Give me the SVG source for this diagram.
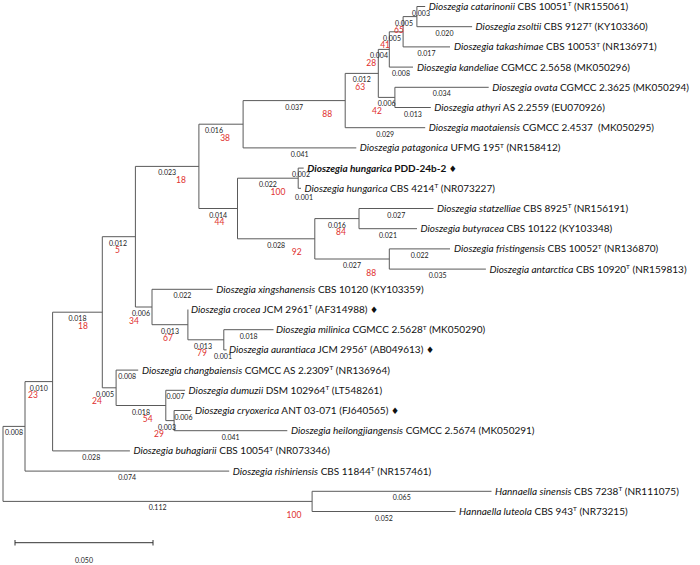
<svg xmlns="http://www.w3.org/2000/svg" width="700" height="565" viewBox="0 0 700 565">
<style>
.ln{fill:none;stroke:#5a5a5a;stroke-width:1}
.sc{fill:none;stroke:#333;stroke-width:1}
.lf{font-family:Lato,'Liberation Sans',sans-serif;font-size:10px;fill:#111}
.sp{font-style:italic}
.sup{font-size:6.5px}
.dm{font-family:'DejaVu Sans',sans-serif;font-size:9px}
.bl{font-family:Lato,'Liberation Sans',sans-serif;font-size:7px;fill:#222;text-anchor:middle}
.bs{font-family:Lato,'Liberation Sans',sans-serif;font-size:8.5px;fill:#e0302e;text-anchor:middle}
</style>
<rect width="700" height="565" fill="#fff"/>
<g id="branches">
<path class="ln" d="M3 426.4V501.4M25 381.6V471.1M52.6 312.2V450.9M102.3 236.7V387.8M135.4 166.4V307M198.9 124.2V208.5M243.1 100.6V147.9M345.2 73.4V127.7M378.3 49.4V97.4M389.3 31.8V67.1M403.1 16.6V46.9M416.9 6.5V26.7M394.9 87.3V107.5M237.5 178.2V238.8M298.2 168.1V188.3M314.8 218.6V259M359 208.5V228.7M389.3 248.9V269.1M152 289.3V324.7M187.9 309.5V339.8M223.8 329.7V349.9M116.1 370.1V405.5M165.8 390.3V420.6M174.1 410.5V430.7M312.1 491.3V511.5"/>
<path class="ln" d="M3 426.4H25M3 501.4H312.1M25 381.6H52.6M25 471.1H229.2M52.6 312.2H102.3M52.6 450.9H129.9M102.3 236.7H135.4M102.3 387.8H116.1M135.4 166.4H198.9M135.4 307H152M198.9 124.2H243.1M198.9 208.5H237.5M243.1 100.6H345.2M243.1 147.9H356.3M345.2 73.4H378.3M345.2 127.7H425.2M378.3 49.4H389.3M378.3 97.4H394.9M389.3 31.8H403.1M389.3 67.1H413M403.1 16.6H416.9M403.1 46.9H450M416.9 6.5H425.2M416.9 26.7H472.1M394.9 87.3H488.7M394.9 107.5H430.8M237.5 178.2H298.2M237.5 238.8H314.8M298.2 168.1H303.7M298.2 188.3H301M314.8 218.6H359M314.8 259H389.3M359 208.5H433.5M359 228.7H417M389.3 248.9H450M389.3 269.1H485.9M152 289.3H212.7M152 324.7H187.9M187.9 339.8H223.8M223.8 329.7H273.5M223.8 349.9H226.6M116.1 370.1H138.2M116.1 405.5H165.8M165.8 390.3H185.1M165.8 420.6H174.1M174.1 410.5H190.7M174.1 430.7H287.3M312.1 491.3H491.5M312.1 511.5H455.6"/>
</g>
<g id="leaf-catarinonii"><text class="lf" x="428.7" y="9.9"><tspan class="sp">Dioszegia catarinonii</tspan> CBS 10051<tspan class="sup" dy="-3.5">T</tspan><tspan dy="3.5"> (NR155061)</tspan></text><text class="bl" x="421" y="15.5">0.003</text></g>
<g id="leaf-zsoltii"><text class="lf" x="475.6" y="30.1"><tspan class="sp">Dioszegia zsoltii</tspan> CBS 9127<tspan class="sup" dy="-3.5">T</tspan><tspan dy="3.5"> (KY103360)</tspan></text><text class="bl" x="444.5" y="35.7">0.020</text></g>
<g id="leaf-takashimae"><text class="lf" x="454" y="50.3"><tspan class="sp">Dioszegia takashimae</tspan> CBS 10053<tspan class="sup" dy="-3.5">T</tspan><tspan dy="3.5"> (NR136971)</tspan></text><text class="bl" x="426.5" y="55.9">0.017</text></g>
<g id="leaf-kandeliae"><text class="lf" x="417" y="70.5"><tspan class="sp">Dioszegia kandeliae</tspan> CGMCC 2.5658 (MK050296)</text><text class="bl" x="401" y="76.1">0.008</text></g>
<g id="leaf-ovata"><text class="lf" x="492.2" y="90.7"><tspan class="sp">Dioszegia ovata</tspan> CGMCC 2.3625 (MK050294)</text><text class="bl" x="441.8" y="96.3">0.034</text></g>
<g id="leaf-athyri"><text class="lf" x="434.3" y="110.9"><tspan class="sp">Dioszegia athyri</tspan> AS 2.2559 (EU070926)</text><text class="bl" x="412.9" y="116.5">0.013</text></g>
<g id="leaf-maotaiensis"><text class="lf" x="428.7" y="131.1" style="white-space:pre"><tspan class="sp">Dioszegia maotaiensis</tspan> CGMCC 2.4537  (MK050295)</text><text class="bl" x="385.2" y="136.7">0.029</text></g>
<g id="leaf-patagonica"><text class="lf" x="359.8" y="151.3"><tspan class="sp">Dioszegia patagonica</tspan> UFMG 195<tspan class="sup" dy="-3.5">T</tspan><tspan dy="3.5"> (NR158412)</tspan></text><text class="bl" x="299.7" y="156.9">0.041</text></g>
<g id="leaf-hungarica-PDD"><text class="lf" x="307.2" y="171.5" font-weight="bold"><tspan class="sp">Dioszegia hungarica</tspan> PDD-24b-2 <tspan class="dm">♦</tspan></text><text class="bl" x="301" y="177.1">0.002</text></g>
<g id="leaf-hungarica-CBS"><text class="lf" x="304.5" y="191.7"><tspan class="sp">Dioszegia hungarica</tspan> CBS 4214<tspan class="sup" dy="-3.5">T</tspan><tspan dy="3.5"> (NR073227)</tspan></text><text class="bl" x="304" y="200">0.001</text></g>
<g id="leaf-statzelliae"><text class="lf" x="437" y="211.9"><tspan class="sp">Dioszegia statzelliae</tspan> CBS 8925<tspan class="sup" dy="-3.5">T</tspan><tspan dy="3.5"> (NR156191)</tspan></text><text class="bl" x="396.3" y="217.5">0.027</text></g>
<g id="leaf-butyracea"><text class="lf" x="420.5" y="232.1"><tspan class="sp">Dioszegia butyracea</tspan> CBS 10122 (KY103348)</text><text class="bl" x="388" y="237.7">0.021</text></g>
<g id="leaf-fristingensis"><text class="lf" x="454" y="252.3"><tspan class="sp">Dioszegia fristingensis</tspan> CBS 10052<tspan class="sup" dy="-3.5">T</tspan><tspan dy="3.5"> (NR136870)</tspan></text><text class="bl" x="419.7" y="257.9">0.022</text></g>
<g id="leaf-antarctica"><text class="lf" x="489.4" y="272.5"><tspan class="sp">Dioszegia antarctica</tspan> CBS 10920<tspan class="sup" dy="-3.5">T</tspan><tspan dy="3.5"> (NR159813)</tspan></text><text class="bl" x="437.6" y="278.1">0.035</text></g>
<g id="leaf-xingshanensis"><text class="lf" x="216.2" y="292.7"><tspan class="sp">Dioszegia xingshanensis</tspan> CBS 10120 (KY103359)</text><text class="bl" x="182.4" y="298.3">0.022</text></g>
<g id="leaf-crocea"><text class="lf" x="191" y="312.9"><tspan class="sp">Dioszegia crocea</tspan> JCM 2961<tspan class="sup" dy="-3.5">T</tspan><tspan dy="3.5"> (AF314988) </tspan><tspan class="dm">♦</tspan></text></g>
<g id="leaf-milinica"><text class="lf" x="276" y="333.1"><tspan class="sp">Dioszegia milinica</tspan> CGMCC 2.5628<tspan class="sup" dy="-3.5">T</tspan><tspan dy="3.5"> (MK050290)</tspan></text><text class="bl" x="248.7" y="338.7">0.018</text></g>
<g id="leaf-aurantiaca"><text class="lf" x="229" y="353.3"><tspan class="sp">Dioszegia aurantiaca</tspan> JCM 2956<tspan class="sup" dy="-3.5">T</tspan><tspan dy="3.5"> (AB049613) </tspan><tspan class="dm">♦</tspan></text><text class="bl" x="223" y="358.9">0.001</text></g>
<g id="leaf-changbaiensis"><text class="lf" x="142" y="373.5"><tspan class="sp">Dioszegia changbaiensis</tspan> CGMCC AS 2.2309<tspan class="sup" dy="-3.5">T</tspan><tspan dy="3.5"> (NR136964)</tspan></text><text class="bl" x="127.2" y="379.1">0.008</text></g>
<g id="leaf-dumuzii"><text class="lf" x="188.6" y="393.7"><tspan class="sp">Dioszegia dumuzii</tspan> DSM 102964<tspan class="sup" dy="-3.5">T</tspan><tspan dy="3.5"> (LT548261)</tspan></text><text class="bl" x="175.5" y="399.3">0.007</text></g>
<g id="leaf-cryoxerica"><text class="lf" x="195" y="413.9"><tspan class="sp">Dioszegia cryoxerica</tspan> ANT 03-071 (FJ640565) <tspan class="dm">♦</tspan></text><text class="bl" x="183.5" y="419.5">0.006</text></g>
<g id="leaf-heilongjiangensis"><text class="lf" x="291" y="434.1"><tspan class="sp">Dioszegia heilongjiangensis</tspan> CGMCC 2.5674 (MK050291)</text><text class="bl" x="230.7" y="439.7">0.041</text></g>
<g id="leaf-buhagiarii"><text class="lf" x="133.4" y="454.3"><tspan class="sp">Dioszegia buhagiarii</tspan> CBS 10054<tspan class="sup" dy="-3.5">T</tspan><tspan dy="3.5"> (NR073346)</tspan></text><text class="bl" x="91.3" y="459.9">0.028</text></g>
<g id="leaf-rishiriensis"><text class="lf" x="232.7" y="474.5"><tspan class="sp">Dioszegia rishiriensis</tspan> CBS 11844<tspan class="sup" dy="-3.5">T</tspan><tspan dy="3.5"> (NR157461)</tspan></text><text class="bl" x="127.1" y="480.1">0.074</text></g>
<g id="leaf-sinensis"><text class="lf" x="495" y="494.7"><tspan class="sp">Hannaella sinensis</tspan> CBS 7238<tspan class="sup" dy="-3.5">T</tspan><tspan dy="3.5"> (NR111075)</tspan></text><text class="bl" x="401.8" y="500.3">0.065</text></g>
<g id="leaf-luteola"><text class="lf" x="459.1" y="514.9"><tspan class="sp">Hannaella luteola</tspan> CBS 943<tspan class="sup" dy="-3.5">T</tspan><tspan dy="3.5"> (NR73215)</tspan></text><text class="bl" x="383.9" y="520.5">0.052</text></g>
<g id="node-O"><text class="bl" x="404" y="25.6">0.005</text><text class="bs" x="398.9" y="33.1">65</text></g>
<g id="node-N"><text class="bl" x="392" y="40.8">0.005</text><text class="bs" x="385.1" y="48.3">41</text></g>
<g id="node-M"><text class="bl" x="379" y="58.4">0.004</text><text class="bs" x="371.3" y="65.9">28</text></g>
<g id="node-K"><text class="bl" x="361.8" y="82.4">0.012</text><text class="bs" x="360.3" y="89.9">63</text></g>
<g id="node-L"><text class="bl" x="386.6" y="106.4">0.006</text><text class="bs" x="376.9" y="113.9">42</text></g>
<g id="node-J"><text class="bl" x="294.2" y="109.6">0.037</text><text class="bs" x="327.2" y="117.1">88</text></g>
<g id="node-H"><text class="bl" x="214" y="133.2">0.016</text><text class="bs" x="225.1" y="140.7">38</text></g>
<g id="node-G"><text class="bl" x="167.2" y="175.4">0.023</text><text class="bs" x="180.9" y="182.9">18</text></g>
<g id="node-P"><text class="bl" x="267.9" y="187.2">0.022</text><text class="bs" x="278" y="194.7">100</text></g>
<g id="node-I"><text class="bl" x="218.2" y="217.5">0.014</text><text class="bs" x="219.5" y="225">44</text></g>
<g id="node-S"><text class="bl" x="336.9" y="227.6">0.016</text><text class="bs" x="341" y="235.1">84</text></g>
<g id="node-Q"><text class="bl" x="276.2" y="247.8">0.028</text><text class="bs" x="296.8" y="255.3">92</text></g>
<g id="node-T"><text class="bl" x="352" y="268">0.027</text><text class="bs" x="371.3" y="275.5">88</text></g>
<g id="node-D"><text class="bl" x="118" y="245.7">0.012</text><text class="bs" x="117.4" y="253.2">5</text></g>
<g id="node-F"><text class="bl" x="141" y="316">0.006</text><text class="bs" x="134" y="323.5">34</text></g>
<g id="node-U"><text class="bl" x="170" y="333.7">0.013</text><text class="bs" x="168" y="341.2">67</text></g>
<g id="node-V"><text class="bl" x="203" y="348.8">0.013</text><text class="bs" x="202" y="356.3">79</text></g>
<g id="node-C"><text class="bl" x="77.5" y="321.2">0.018</text><text class="bs" x="83" y="328.7">18</text></g>
<g id="node-E"><text class="bl" x="105" y="396.8">0.005</text><text class="bs" x="97" y="404.3">24</text></g>
<g id="node-W"><text class="bl" x="141" y="414.5">0.018</text><text class="bs" x="147.8" y="422">54</text></g>
<g id="node-X"><text class="bl" x="167" y="429.6">0.003</text><text class="bs" x="159" y="437.1">29</text></g>
<g id="node-B"><text class="bl" x="38.8" y="390.6">0.010</text><text class="bs" x="33" y="398.1">23</text></g>
<g id="node-A"><text class="bl" x="14" y="435.4">0.008</text></g>
<g id="node-Hannaella"><text class="bl" x="157.6" y="510.4">0.112</text><text class="bs" x="294" y="517.9">100</text></g>
<g id="scale-bar"><path class="sc" d="M15 542.7H153M15 540V545.5M153 540V545.5"/><text class="bl" x="84" y="563">0.050</text></g>
</svg>
